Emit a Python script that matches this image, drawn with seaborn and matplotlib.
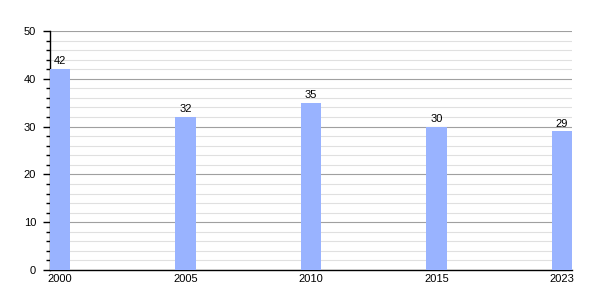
import matplotlib
matplotlib.use("Agg")
import matplotlib.pyplot as plt
from matplotlib.ticker import MultipleLocator
import seaborn as sns
import pandas as pd

years = ["2000", "2005", "2010", "2015", "2023"]
values = [42, 32, 35, 30, 29]

sns.set_style("white")
plt.rcParams["font.family"] = ["Liberation Sans", "DejaVu Sans"]
plt.rcParams["text.color"] = "black"
plt.rcParams["xtick.color"] = "black"
plt.rcParams["ytick.color"] = "black"

df = pd.DataFrame({"year": years, "value": values})

fig = plt.figure(figsize=(6, 3), dpi=100)
ax = fig.add_axes([50/600, 30/300, 522/600, 239/300])

sns.barplot(data=df, x="year", y="value", order=years, color="#99b3ff",
            saturation=1, width=0.16, ax=ax, zorder=3, linewidth=0,
            edgecolor="none")

ax.set_xlim(-0.08, 4.08)
ax.set_ylim(0, 50)
ax.yaxis.set_major_locator(MultipleLocator(10))
ax.yaxis.set_minor_locator(MultipleLocator(2))
ax.grid(which="major", axis="y", color="#a0a0a0", linewidth=0.8, zorder=0)
ax.grid(which="minor", axis="y", color="#e0e0e0", linewidth=0.8, zorder=0)
ax.set_axisbelow(True)

for s in ["top", "right"]:
    ax.spines[s].set_visible(False)
for s in ["left", "bottom"]:
    ax.spines[s].set_color("black")
    ax.spines[s].set_linewidth(1)

ax.tick_params(axis="y", which="major", length=5, width=1, color="black",
               labelcolor="black", labelsize=8, pad=5, left=True)
ax.tick_params(axis="y", which="minor", length=3, width=1, color="black", left=True)
ax.tick_params(axis="x", length=0, labelsize=8, pad=3, labelcolor="black")
ax.set_xlabel("")
ax.set_ylabel("")

for c in ax.containers:
    ax.bar_label(c, labels=[str(v) for v in values], fontsize=8, padding=2,
                 color="black")

fig.savefig("out.png", dpi=100)
